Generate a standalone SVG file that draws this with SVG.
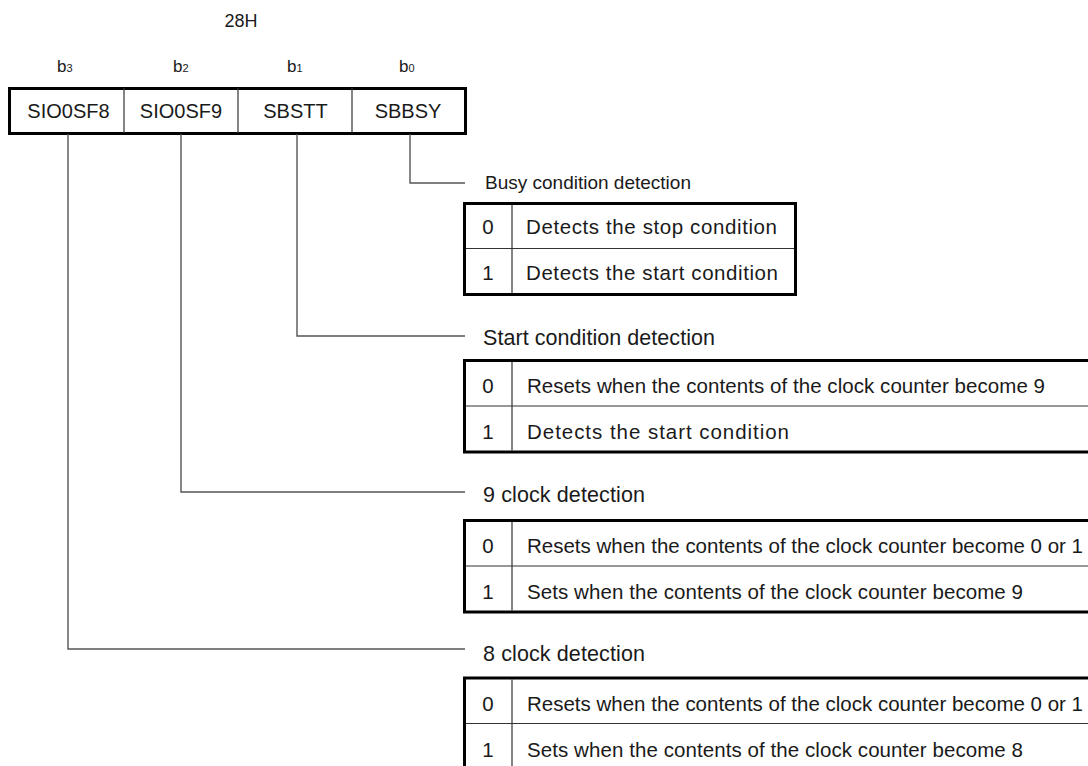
<svg xmlns="http://www.w3.org/2000/svg" width="1088" height="766" viewBox="0 0 1088 766">
<style>
text{font-family:"Liberation Sans",Arial,sans-serif;fill:#1a1a1a}
.reg{font-size:20px;text-anchor:middle}
.bit{font-size:17px}
.sub{font-size:11px}
.t1{font-size:19px}
.t2{font-size:21.5px}
.r1{font-size:20.5px}
.r2{font-size:20.5px}
.num{text-anchor:middle}
.outer{fill:none;stroke:#000;stroke-width:3}
.inner{fill:none;stroke:#333;stroke-width:1.2}
.conn{fill:none;stroke:#555;stroke-width:1.4}
</style>
<rect width="1088" height="766" fill="#fff"/>

<g id="address">
<text x="241" y="27" font-size="18" text-anchor="middle">28H</text>
</g>

<g id="bits">
<text class="bit" x="57" y="72">b<tspan class="sub">3</tspan></text>
<text class="bit" x="173" y="72">b<tspan class="sub">2</tspan></text>
<text class="bit" x="287" y="72">b<tspan class="sub">1</tspan></text>
<text class="bit" x="399" y="72">b<tspan class="sub">0</tspan></text>
</g>

<g id="register">
<rect class="outer" x="9.5" y="88.5" width="456" height="45"/>
<line class="inner" x1="124" y1="88" x2="124" y2="133"/>
<line class="inner" x1="238" y1="88" x2="238" y2="133"/>
<line class="inner" x1="352" y1="88" x2="352" y2="133"/>
<text class="reg" x="68.5" y="118">SIO0SF8</text>
<text class="reg" x="181" y="118">SIO0SF9</text>
<text class="reg" x="295.5" y="118">SBSTT</text>
<text class="reg" x="408" y="118">SBBSY</text>
</g>

<g id="connectors">
<polyline class="conn" points="410,134 410,183 465,183"/>
<polyline class="conn" points="297,134 297,336 465,336"/>
<polyline class="conn" points="181,134 181,492 465,492"/>
<polyline class="conn" points="68,134 68,649 465,649"/>
</g>

<g id="busy">
<text class="t1" x="485" y="189">Busy condition detection</text>
<rect class="outer" x="464.5" y="203.5" width="331" height="91"/>
<line class="inner" x1="466" y1="248.5" x2="794" y2="248.5"/>
<line class="inner" x1="512" y1="205" x2="512" y2="293"/>
<text class="r1 num" x="488" y="234">0</text>
<text class="r1" x="526" y="234" textLength="251" lengthAdjust="spacing">Detects the stop condition</text>
<text class="r1 num" x="488" y="279.5">1</text>
<text class="r1" x="526" y="279.5" textLength="252" lengthAdjust="spacing">Detects the start condition</text>
</g>

<g id="start">
<text class="t2" x="483" y="345" textLength="232" lengthAdjust="spacing">Start condition detection</text>
<rect class="outer" x="464.5" y="360.5" width="640" height="91.5"/>
<line class="inner" x1="466" y1="406" x2="1088" y2="406"/>
<line class="inner" x1="512" y1="362" x2="512" y2="450.5"/>
<text class="r2 num" x="488" y="393">0</text>
<text class="r2" x="527" y="393" textLength="518" lengthAdjust="spacing">Resets when the contents of the clock counter become 9</text>
<text class="r2 num" x="488" y="439">1</text>
<text class="r2" x="527" y="439" textLength="262" lengthAdjust="spacing">Detects the start condition</text>
</g>

<g id="clock9">
<text class="t2" x="483" y="502" textLength="162" lengthAdjust="spacing">9 clock detection</text>
<rect class="outer" x="464.5" y="520.5" width="640" height="91.5"/>
<line class="inner" x1="466" y1="566" x2="1088" y2="566"/>
<line class="inner" x1="512" y1="522" x2="512" y2="610.5"/>
<text class="r2 num" x="488" y="553">0</text>
<text class="r2" x="527" y="553" textLength="556" lengthAdjust="spacing">Resets when the contents of the clock counter become 0 or 1</text>
<text class="r2 num" x="488" y="599">1</text>
<text class="r2" x="527" y="599" textLength="496" lengthAdjust="spacing">Sets when the contents of the clock counter become 9</text>
</g>

<g id="clock8">
<text class="t2" x="483" y="661" textLength="162" lengthAdjust="spacing">8 clock detection</text>
<rect class="outer" x="464.5" y="678" width="640" height="91.5"/>
<line class="inner" x1="466" y1="723.5" x2="1088" y2="723.5"/>
<line class="inner" x1="512" y1="679.5" x2="512" y2="768"/>
<text class="r2 num" x="488" y="711">0</text>
<text class="r2" x="527" y="711" textLength="556" lengthAdjust="spacing">Resets when the contents of the clock counter become 0 or 1</text>
<text class="r2 num" x="488" y="757">1</text>
<text class="r2" x="527" y="757" textLength="496" lengthAdjust="spacing">Sets when the contents of the clock counter become 8</text>
</g>
</svg>
